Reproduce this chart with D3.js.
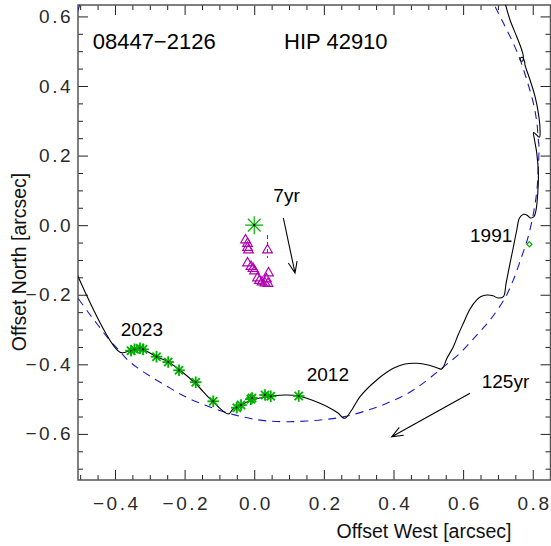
<!DOCTYPE html>
<html>
<head>
<meta charset="utf-8">
<script src="https://cdn.jsdelivr.net/npm/d3@7"></script>
<style>
  body { margin: 0; background: #fff; }
  svg { display: block; font-family: "Liberation Sans", Arial, sans-serif; }
</style>
</head>
<body>
<svg id="chart" width="551" height="546"></svg>
<script>
// tick values
const xMajor = [-0.4, -0.2, 0.0, 0.2, 0.4, 0.6, 0.8];
const yMajor = [-0.6, -0.4, -0.2, 0.0, 0.2, 0.4, 0.6];
const xMinor = [-0.5, -0.45, -0.35, -0.3, -0.25, -0.15, -0.1, -0.05, 0.05, 0.1, 0.15, 0.25, 0.3, 0.35, 0.45, 0.5, 0.55, 0.65, 0.7, 0.75, 0.85];
const yMinor = [-0.7, -0.65, -0.55, -0.5, -0.45, -0.35, -0.3, -0.25, -0.15, -0.1, -0.05, 0.05, 0.1, 0.15, 0.25, 0.3, 0.35, 0.45, 0.5, 0.55];

// combined model orbit (solid), offsets in arcsec [west, north]
const modelOrbit = [
  [0.7205, 0.6385], [0.7348, 0.5897], [0.7541, 0.5417], [0.7685, 0.5034], [0.7731, 0.4842],
  [0.7708, 0.4719], [0.7650, 0.4733], [0.7650, 0.4805], [0.7708, 0.4819], [0.7765, 0.4704],
  [0.7779, 0.4603], [0.7923, 0.4172], [0.8067, 0.3692], [0.8162, 0.3215], [0.8210, 0.2735],
  [0.8190, 0.2525], [0.8024, 0.2663], [0.8052, 0.2448], [0.8116, 0.2065], [0.8162, 0.1490],
  [0.8144, 0.0915], [0.8095, 0.0435], [0.8038, 0.0249], [0.7937, 0.0206], [0.7828, 0.0292],
  [0.7731, 0.0312], [0.7616, 0.0197], [0.7541, -0.0139], [0.7426, -0.0714], [0.7328, -0.1194],
  [0.7234, -0.1671], [0.7156, -0.2057], [0.7004, -0.2094], [0.6860, -0.2031], [0.6688, -0.2008],
  [0.6515, -0.2051], [0.6392, -0.2151], [0.6199, -0.2410], [0.6007, -0.2821], [0.5855, -0.3158],
  [0.5720, -0.3494], [0.5539, -0.3819], [0.5386, -0.4135], [0.5223, -0.4092], [0.4993, -0.4020],
  [0.4668, -0.3971], [0.4332, -0.3991], [0.3996, -0.4115], [0.3519, -0.4451], [0.3039, -0.4931],
  [0.2801, -0.5313], [0.2594, -0.5552], [0.2407, -0.5400], [0.2272, -0.5313], [0.1890, -0.5121],
  [0.1508, -0.4977], [0.1287, -0.4911], [0.0934, -0.4882], [0.0598, -0.4896], [0.0310, -0.4940],
  [-0.0063, -0.5026], [-0.0264, -0.5112], [-0.0465, -0.5218], [-0.0609, -0.5285], [-0.0738, -0.5428],
  [-0.1184, -0.5075], [-0.1709, -0.4529], [-0.2140, -0.4164], [-0.2476, -0.3925], [-0.2812, -0.3781],
  [-0.3243, -0.3560], [-0.3531, -0.3589], [-0.3855, -0.3655], [-0.5091, -0.1404]
];

// outer 125yr orbit (dashed)
const outerOrbit = [
  [0.692, 0.628], [0.716, 0.580], [0.744, 0.523], [0.764, 0.475], [0.783, 0.417], [0.802, 0.350],
  [0.812, 0.293], [0.816, 0.245], [0.818, 0.226], [0.816, 0.168], [0.812, 0.101], [0.802, 0.034],
  [0.787, -0.033], [0.768, -0.091], [0.744, -0.158], [0.720, -0.210], [0.677, -0.273], [0.639, -0.316],
  [0.591, -0.368], [0.539, -0.411], [0.457, -0.474], [0.381, -0.512], [0.313, -0.536], [0.256, -0.551],
  [0.208, -0.558], [0.151, -0.563], [0.093, -0.565], [0.040, -0.563], [0.001, -0.558], [-0.027, -0.552],
  [-0.066, -0.543], [-0.104, -0.531], [-0.142, -0.517], [-0.181, -0.501], [-0.219, -0.482], [-0.257, -0.459],
  [-0.296, -0.436], [-0.334, -0.411], [-0.363, -0.388], [-0.391, -0.357], [-0.420, -0.325], [-0.449, -0.287],
  [-0.478, -0.249], [-0.506, -0.210]
];
const outerOrbitTop = [[-0.512, 0.600], [-0.499, 0.640]];

// speckle measures (green asterisks)
const speckle = [
  [-0.3539, -0.3609], [-0.3439, -0.3569], [-0.3281, -0.3540], [-0.3194, -0.3569], [-0.2807, -0.3781],
  [-0.2471, -0.3934], [-0.2160, -0.4172], [-0.1681, -0.4514], [-0.1178, -0.5063], [-0.0500, -0.5247],
  [-0.0379, -0.5170], [-0.0098, -0.5003], [-0.0063, -0.4968], [0.0310, -0.4882], [0.0474, -0.4920],
  [0.1278, -0.4911]
];

// inner pair measures (magenta triangles)
const innerPair = [
  [-0.0250, -0.0427], [-0.0192, -0.0527], [-0.0192, -0.0642], [-0.0164, -0.0714], [-0.0192, -0.1088],
  [-0.0092, -0.1189], [-0.0034, -0.1246], [0.0009, -0.1318], [0.0095, -0.1519], [0.0152, -0.1591],
  [0.0224, -0.1634], [0.0310, -0.1663], [0.0396, -0.1677], [0.0382, -0.0714], [0.0411, -0.1375],
  [0.0353, -0.1548]
];
const innerErr = [[0.0382, -0.0283, -0.0944]];

const hipparcos = [[0.7903, -0.0550]];
const primary = [[0.0, 0.0]];

const arrows = [
  { from: [0.0836, 0.0206], to: [0.1172, -0.1375] },
  { from: [0.6199, -0.4833], to: [0.3950, -0.6081] }
];

const labels = [
  { text: "08447\u22122126", pos: [-0.4640, 0.5055], big: true },
  { text: "HIP 42910", pos: [0.0856, 0.5055], big: true },
  { text: "7yr", pos: [0.0549, 0.0674] },
  { text: "1991", pos: [0.6199, -0.0476] },
  { text: "2023", pos: [-0.3835, -0.3186] },
  { text: "2012", pos: [0.1508, -0.4471] },
  { text: "125yr", pos: [0.6535, -0.4690] }
];

const svg = d3.select("#chart");
const L = 78, R = 550.5, T = 5, B = 480;

const x = d3.scaleLinear().domain([-0.5062, 0.851]).range([L, R]);
const y = d3.scaleLinear().domain([-0.7325, 0.6328]).range([B, T]);

const fmt = d => d.toFixed(1).replace("-", "\u2212");

svg.append("defs").append("clipPath").attr("id", "clip")
  .append("rect").attr("x", L).attr("y", T).attr("width", R - L).attr("height", B - T);

// axes, ticks point inward on all four sides
function styleAxis(g) {
  g.select(".domain").remove();
  g.selectAll(".tick line").attr("stroke", "#222").attr("stroke-width", 1);
  g.selectAll("text").attr("fill", "#2a2a2a").style("font-size", "19px").style("letter-spacing", "2.5px");
}

svg.append("g").attr("transform", `translate(0,${B})`)
  .call(d3.axisBottom(x).tickValues(xMajor).tickSize(-10).tickPadding(17).tickFormat(fmt))
  .call(styleAxis).call(g => g.selectAll("text").attr("dx", 1.25));
svg.append("g").attr("transform", `translate(0,${B})`)
  .call(d3.axisBottom(x).tickValues(xMinor).tickSize(-5).tickFormat(""))
  .call(styleAxis);
svg.append("g").attr("transform", `translate(0,${T})`)
  .call(d3.axisTop(x).tickValues(xMajor).tickSize(-10).tickFormat(""))
  .call(styleAxis);
svg.append("g").attr("transform", `translate(0,${T})`)
  .call(d3.axisTop(x).tickValues(xMinor).tickSize(-5).tickFormat(""))
  .call(styleAxis);

svg.append("g").attr("transform", `translate(${L},0)`)
  .call(d3.axisLeft(y).tickValues(yMajor).tickSize(-10).tickPadding(5).tickFormat(fmt))
  .call(styleAxis);
svg.append("g").attr("transform", `translate(${L},0)`)
  .call(d3.axisLeft(y).tickValues(yMinor).tickSize(-5).tickFormat(""))
  .call(styleAxis);
svg.append("g").attr("transform", `translate(${R},0)`)
  .call(d3.axisRight(y).tickValues(yMajor).tickSize(-10).tickFormat(""))
  .call(styleAxis);
svg.append("g").attr("transform", `translate(${R},0)`)
  .call(d3.axisRight(y).tickValues(yMinor).tickSize(-5).tickFormat(""))
  .call(styleAxis);

svg.append("rect").attr("x", L).attr("y", T).attr("width", R - L).attr("height", B - T)
  .attr("fill", "none").attr("stroke", "#555").attr("stroke-width", 1.5);

// axis titles
svg.append("text").attr("x", 424).attr("y", 538).attr("text-anchor", "middle")
  .style("font-size", "19.5px").attr("fill", "#111").text("Offset West [arcsec]");
svg.append("text").attr("transform", "translate(26,262) rotate(-90)").attr("text-anchor", "middle")
  .style("font-size", "19.5px").attr("fill", "#111").text("Offset North [arcsec]");

const plot = svg.append("g").attr("clip-path", "url(#clip)");
const line = d3.line().x(d => x(d[0])).y(d => y(d[1])).curve(d3.curveCatmullRom.alpha(0.5));

plot.append("path").attr("d", line(outerOrbit)).attr("fill", "none")
  .attr("stroke", "#1a1ac4").attr("stroke-width", 1.1).attr("stroke-dasharray", "8,6");
plot.append("path").attr("d", d3.line().x(d => x(d[0])).y(d => y(d[1]))(outerOrbitTop)).attr("fill", "none")
  .attr("stroke", "#1a1ac4").attr("stroke-width", 1.1);

plot.append("path").attr("d", line(modelOrbit)).attr("fill", "none")
  .attr("stroke", "#000").attr("stroke-width", 1.1);

// magenta triangles
const tri = "M0,-5.5L4.8,2.8L-4.8,2.8Z";
plot.selectAll(".err").data(innerErr).enter().append("line")
  .attr("x1", d => x(d[0])).attr("x2", d => x(d[0]))
  .attr("y1", d => y(d[1])).attr("y2", d => y(d[2]))
  .attr("stroke", "#b000b0").attr("stroke-width", 1).attr("stroke-dasharray", "4,3");
plot.selectAll(".tri").data(innerPair).enter().append("path")
  .attr("transform", d => `translate(${x(d[0])},${y(d[1])})`)
  .attr("d", tri).attr("fill", "none").attr("stroke", "#b000b0").attr("stroke-width", 1.2);

// asterisk marker
function asterisk(g, r, w) {
  [0, 45, 90, 135].forEach(a => {
    const dx = r * Math.cos(a * Math.PI / 180), dy = r * Math.sin(a * Math.PI / 180);
    g.append("line").attr("x1", -dx).attr("y1", -dy).attr("x2", dx).attr("y2", dy)
      .attr("stroke", "#00b000").attr("stroke-width", w);
  });
  g.append("circle").attr("r", 1.1).attr("fill", "#000");
}

plot.selectAll(".star").data(speckle).enter().append("g")
  .attr("transform", d => `translate(${x(d[0])},${y(d[1])})`)
  .each(function() { asterisk(d3.select(this), 5.8, 1.8); });

plot.selectAll(".prim").data(primary).enter().append("g")
  .attr("transform", d => `translate(${x(d[0])},${y(d[1])})`)
  .each(function() { asterisk(d3.select(this), 9, 1.2); });

plot.selectAll(".hip").data(hipparcos).enter().append("path")
  .attr("transform", d => `translate(${x(d[0])},${y(d[1])})`)
  .attr("d", "M0,-2.6L2.6,0L0,2.6L-2.6,0Z").attr("fill", "none")
  .attr("stroke", "#00b000").attr("stroke-width", 1.2);

// motion arrows
arrows.forEach(a => {
  const x1 = x(a.from[0]), y1 = y(a.from[1]), x2 = x(a.to[0]), y2 = y(a.to[1]);
  const ang = Math.atan2(y2 - y1, x2 - x1), len = 12, spread = 0.38;
  const p = `M${x1},${y1}L${x2},${y2}` +
    `M${x2 - len * Math.cos(ang - spread)},${y2 - len * Math.sin(ang - spread)}L${x2},${y2}` +
    `L${x2 - len * Math.cos(ang + spread)},${y2 - len * Math.sin(ang + spread)}`;
  svg.append("path").attr("d", p).attr("fill", "none").attr("stroke", "#000").attr("stroke-width", 1.1);
});

svg.selectAll(".lbl").data(labels).enter().append("text")
  .attr("x", d => x(d.pos[0])).attr("y", d => y(d.pos[1]))
  .style("font-size", d => d.big ? "22px" : "19px").attr("fill", "#000")
  .text(d => d.text);
</script>
</body>
</html>
